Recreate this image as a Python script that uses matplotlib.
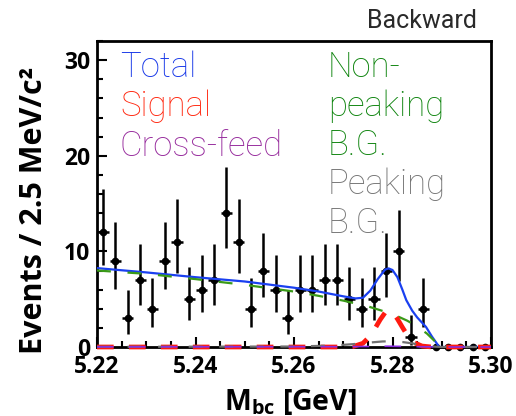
import numpy as np
import matplotlib
matplotlib.use('Agg')
import matplotlib.pyplot as plt
from matplotlib.ticker import MultipleLocator

plt.rcParams['mathtext.fontset'] = 'custom'
plt.rcParams['mathtext.rm'] = 'Open Sans:bold'
plt.rcParams['lines.scale_dashes'] = False

# data: events per 2.5 MeV bin, 5.22 - 5.30 GeV
bin_lo = 5.22
bin_w = 0.0025
counts = [12, 9, 3, 7, 4, 9, 11, 5, 6, 7, 14, 11, 4, 8, 6, 3,
          6, 6, 7, 7, 5, 4, 5, 8, 10, 1, 4, 0, 0, 0, 0, 0]

# fit components
tot_x = [5.2200, 5.2300, 5.2400, 5.2500, 5.2600, 5.2650, 5.2700, 5.2725, 5.2740,
         5.2755, 5.2770, 5.2785, 5.2792, 5.2800, 5.2810, 5.2820, 5.2828, 5.2840,
         5.2850, 5.2868, 5.2880, 5.2895, 5.3000]
tot_y = [8.25, 7.80, 7.30, 6.85, 6.20, 5.80, 5.30, 5.08, 5.15,
         5.90, 7.10, 8.10, 8.22, 8.05, 7.30, 6.00, 4.90, 3.80,
         3.10, 2.10, 1.10, 0.00, 0.00]

nonpk_x = [5.2200, 5.2300, 5.2400, 5.2500, 5.2600, 5.2650, 5.2700, 5.2750, 5.2800,
           5.2830, 5.2850, 5.2870, 5.2885, 5.2893, 5.3000]
nonpk_y = [8.00, 7.65, 7.10, 6.50, 5.80, 5.35, 4.85, 4.25, 3.45,
           2.75, 2.15, 1.40, 0.65, 0.00, 0.00]

sig_x = [5.2200, 5.2700, 5.2720, 5.2740, 5.2755, 5.2765, 5.2775, 5.2785, 5.2793,
         5.2800, 5.2810, 5.2820, 5.2830, 5.2845, 5.2860, 5.2880, 5.3000]
sig_y = [0.00, 0.00, 0.05, 0.39, 1.17, 1.98, 2.86, 3.60, 3.85,
         3.65, 2.94, 2.07, 1.24, 0.43, 0.10, 0.00, 0.00]

pk_x = [5.2200, 5.2600, 5.2680, 5.2720, 5.2750, 5.2780, 5.2800, 5.2820, 5.2840,
        5.2860, 5.2880, 5.2900, 5.3000]
pk_y = [0.02, 0.05, 0.15, 0.30, 0.45, 0.58, 0.60, 0.52, 0.38,
        0.20, 0.05, 0.00, 0.00]

xf_x = [5.2200, 5.2700, 5.2760, 5.2790, 5.2820, 5.2895, 5.3000]
xf_y = [0.02, 0.03, 0.06, 0.08, 0.06, 0.00, 0.00]

# bin centres and poisson errors (Gehrels approx.)
n = np.array(counts, dtype=float)
xc = bin_lo + bin_w * (np.arange(len(counts)) + 0.5)
err_hi = np.where(n > 0, 1 + np.sqrt(n + 0.75), 0)
err_lo = np.where(n > 0, n - n * (1 - 1 / (9 * np.maximum(n, 1)) - 1 / (3 * np.sqrt(np.maximum(n, 1)))) ** 3, 0)

fig = plt.figure(figsize=(5.16, 4.16), dpi=100)
ax = fig.add_axes([97 / 516, 69 / 416, 394 / 516, 306 / 416])

ax.errorbar(xc, n, yerr=[err_lo, err_hi], xerr=bin_w * 0.45, fmt='o', color='black',
            ms=4.5, elinewidth=1.8, capsize=0, zorder=3, clip_on=False)

ax.plot(tot_x, tot_y, color='#1a40f0', lw=1.6, zorder=4)
ax.plot(nonpk_x, nonpk_y, color='#3a9a18', lw=1.6, dashes=(10, 12), zorder=5)
ax.plot(sig_x, sig_y, color='#ff1a10', lw=3.4, dashes=(12, 11), solid_capstyle='butt',
        dash_capstyle='butt', zorder=6, clip_on=False)
ax.plot(pk_x, pk_y, color='#707070', lw=1.6, dashes=(10, 12), zorder=7, clip_on=False)
ax.plot(xf_x, xf_y, color='#8a2be2', lw=1.2, dashes=(12, 11), zorder=8, clip_on=False)

ax.set_xlim(5.22, 5.30)
ax.set_ylim(0, 32)
ax.xaxis.set_major_locator(MultipleLocator(0.02))
ax.xaxis.set_minor_locator(MultipleLocator(0.005))
ax.yaxis.set_major_locator(MultipleLocator(10))
ax.yaxis.set_minor_locator(MultipleLocator(2))
ax.xaxis.set_major_formatter(plt.FuncFormatter(lambda v, p: '%.2f' % v))
ax.tick_params(which='both', direction='in', top=False, right=False, width=1.5)
ax.tick_params(which='major', length=7)
ax.tick_params(which='minor', length=4)
ax.tick_params(axis='x', pad=6)
ax.tick_params(axis='y', pad=5)
for lab in ax.get_xticklabels() + ax.get_yticklabels():
    lab.set_fontfamily('Open Sans')
    lab.set_fontweight('bold')
    lab.set_fontsize(16.5)
for sp in ax.spines.values():
    sp.set_linewidth(2)

# axis titles
fig.text(290 / 516, 6 / 416, r'M$_{\rm bc}$ [GeV]', ha='center', va='baseline',
         fontsize=20.5, fontweight='bold', family='Open Sans')
fig.text(34 / 516, 0.495, 'Events / 2.5 MeV/c²', rotation=90, ha='center', va='center',
         fontsize=22, fontweight='bold', family='Open Sans')

fig.text(477 / 516, (416 - 28) / 416, 'Backward', ha='right', va='baseline',
         fontsize=18, color='#2a2a2a', family='Roboto', fontweight='normal')

# legend texts
leg_font = dict(fontsize=25, family='Roboto', fontweight='light', va='baseline', ha='left')
fig.text(120 / 516, (416 - 77) / 416, 'Total', color='#1838e8', **leg_font)
fig.text(120 / 516, (416 - 116) / 416, 'Signal', color='#ff2810', **leg_font)
fig.text(120 / 516, (416 - 156) / 416, 'Cross-feed', color='#962a9c', **leg_font)
fig.text(328 / 516, (416 - 77) / 416, 'Non-', color='#0e840e', **leg_font)
fig.text(328 / 516, (416 - 116) / 416, 'peaking', color='#0e840e', **leg_font)
fig.text(328 / 516, (416 - 155) / 416, 'B.G.', color='#0e840e', **leg_font)
fig.text(328 / 516, (416 - 194) / 416, 'Peaking', color='#757575', **leg_font)
fig.text(328 / 516, (416 - 233) / 416, 'B.G.', color='#757575', **leg_font)

fig.savefig('out.png', dpi=100)
